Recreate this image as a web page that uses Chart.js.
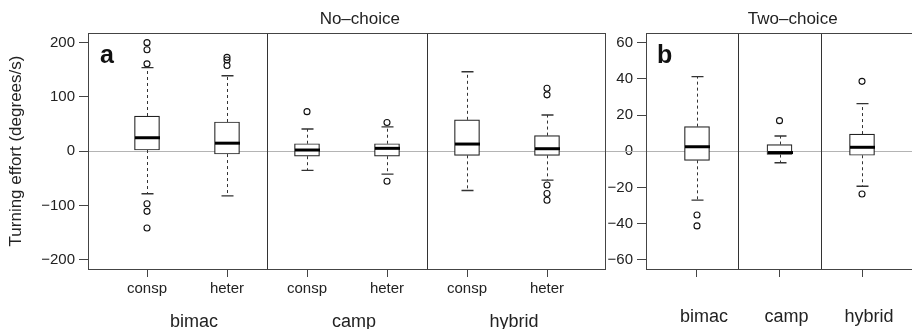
<!DOCTYPE html>
<html>
<head>
<meta charset="utf-8">
<script src="https://cdn.jsdelivr.net/npm/chart.js@4.4.1/dist/chart.umd.min.js"></script>
<style>
  html, body { margin: 0; padding: 0; background: #ffffff; overflow: hidden; }
  #wrap { position: relative; width: 912px; height: 329px; overflow: hidden; }
  canvas { position: absolute; top: 0; }
  #ca { left: 0; }
  #cb { left: 606px; }
</style>
</head>
<body>
<div id="wrap">
  <canvas id="ca" width="620" height="329"></canvas>
  <canvas id="cb" width="307" height="329"></canvas>
</div>
<script>
// ---------- Panel a: No-choice ----------
const noChoiceTitle = 'No\u2013choice';
const noChoiceCats = ['consp', 'heter', 'consp', 'heter', 'consp', 'heter'];
const noChoiceGroups = ['bimac', 'camp', 'hybrid'];
const ncLowWhisker  = [-78, -82, -35, -42, -72, -53];
const ncQ1          = [2.4, -5, -9, -9, -7.4, -7.4];
const ncMedian      = [25, 15, 2.4, 5.5, 13.4, 4.8];
const ncQ3          = [65, 54, 14, 14, 58, 29];
const ncHighWhisker = [154, 139, 41, 45, 146.6, 67];
const ncOutliers    = [[200, 187, 161, -96.5, -110.5, -141], [173, 168, 158], [73], [53, -55], [], [116, 104, -62, -77.5, -90]];
const ncYTicks = [-200, -100, 0, 100, 200];

// ---------- Panel b: Two-choice ----------
const twoChoiceTitle = 'Two\u2013choice';
const twoChoiceCats = ['bimac', 'camp', 'hybrid'];
const tcLowWhisker  = [-27, -6.3, -19.3];
const tcQ1          = [-5, -1.8, -2.2];
const tcMedian      = [2.5, -0.7, 2.2];
const tcQ3          = [13.6, 3.7, 9.5];
const tcHighWhisker = [41.2, 8.4, 26.3];
const tcOutliers    = [[-35.2, -41.2], [16.9], [38.6, -23.6]];
const tcYTicks = [-60, -40, -20, 0, 20, 40, 60];

const FONT = "'Liberation Sans', Arial, Helvetica, sans-serif";
const INK = '#222';

function boxData(q1, q3) { return q1.map((v, i) => ({ x: i + 1, y: [v, q3[i]] })); }
function outlierData(out) {
  const pts = [];
  out.forEach((arr, i) => arr.forEach(v => pts.push({ x: i + 1, y: v })));
  return pts;
}

function boxPlugin(opts) {
  return {
    id: 'boxdeco' + opts.key,
    beforeDatasetsDraw(chart) {
      const ctx = chart.ctx, ca = chart.chartArea, ys = chart.scales.y;
      const y0 = Math.round(ys.getPixelForValue(0)) + 0.5;
      ctx.save();
      ctx.strokeStyle = '#b4b4b4';
      ctx.lineWidth = 1;
      ctx.beginPath();
      ctx.moveTo(opts.zeroFrom === 'edge' ? 0 : ca.left, y0);
      ctx.lineTo(opts.zeroTo === 'edge' ? chart.width : ca.right, y0);
      ctx.stroke();
      ctx.restore();
    },
    afterDatasetsDraw(chart) {
      const ctx = chart.ctx, ca = chart.chartArea, xs = chart.scales.x, ys = chart.scales.y;
      ctx.save();
      // whiskers
      opts.low.forEach((lo, i) => {
        const x = Math.round(xs.getPixelForValue(i + 1)) + 0.5;
        const pLo = ys.getPixelForValue(lo), pHi = ys.getPixelForValue(opts.high[i]);
        const pQ1 = ys.getPixelForValue(opts.q1[i]), pQ3 = ys.getPixelForValue(opts.q3[i]);
        ctx.strokeStyle = '#333';
        ctx.lineWidth = 1;
        ctx.setLineDash([3, 3]);
        ctx.beginPath();
        ctx.moveTo(x, pQ3); ctx.lineTo(x, pHi);
        ctx.moveTo(x, pQ1); ctx.lineTo(x, pLo);
        ctx.stroke();
        ctx.setLineDash([]);
        ctx.lineWidth = 1.4;
        ctx.beginPath();
        ctx.moveTo(x - 6, pHi); ctx.lineTo(x + 6, pHi);
        ctx.moveTo(x - 6, pLo); ctx.lineTo(x + 6, pLo);
        ctx.stroke();
        // median
        const pM = ys.getPixelForValue(opts.med[i]);
        ctx.strokeStyle = '#000';
        ctx.lineWidth = 3;
        ctx.beginPath();
        ctx.moveTo(x - 12.5, pM); ctx.lineTo(x + 12.5, pM);
        ctx.stroke();
      });
      // dividers
      ctx.strokeStyle = '#333';
      ctx.lineWidth = 1;
      opts.dividers.forEach(d => {
        const x = Math.round(xs.getPixelForValue(d)) + 0.5;
        ctx.beginPath(); ctx.moveTo(x, ca.top); ctx.lineTo(x, ca.bottom); ctx.stroke();
      });
      // frame
      ctx.strokeStyle = '#444';
      ctx.strokeRect(Math.round(ca.left) + 0.5, Math.round(ca.top) + 0.5,
                     Math.round(ca.right - ca.left), Math.round(ca.bottom - ca.top));
      // panel letter
      ctx.fillStyle = '#111';
      ctx.font = 'bold 25px ' + FONT;
      ctx.textAlign = 'left';
      ctx.textBaseline = 'alphabetic';
      ctx.fillText(opts.letter, ca.left + opts.letterDx, 63);
      // title
      ctx.fillStyle = INK;
      ctx.font = '17px ' + FONT;
      ctx.textAlign = 'center';
      ctx.fillText(opts.title, xs.getPixelForValue(opts.titleAt), 24);
      // group labels
      if (opts.groups) {
        ctx.font = '18px ' + FONT;
        opts.groups.forEach((g, i) => {
          ctx.fillText(g, xs.getPixelForValue(1.5 + 2 * i) + 7, 327);
        });
      }
      ctx.restore();
    }
  };
}

function makeChart(canvasId, cfg) {
  return new Chart(document.getElementById(canvasId), {
    type: 'bar',
    data: {
      datasets: [
        {
          type: 'bar',
          data: boxData(cfg.q1, cfg.q3),
          backgroundColor: '#ffffff',
          borderColor: '#222',
          borderWidth: 1.2,
          borderSkipped: false,
          barThickness: 25,
          grouped: false
        },
        {
          type: 'scatter',
          data: outlierData(cfg.outliers),
          pointStyle: 'circle',
          pointRadius: 3,
          pointBorderWidth: 1.1,
          pointBorderColor: '#111',
          pointBackgroundColor: 'rgba(255,255,255,0)'
        }
      ]
    },
    options: {
      responsive: false,
      animation: false,
      devicePixelRatio: 1,
      layout: { autoPadding: false, padding: { left: 0, top: 33, right: cfg.padRight, bottom: 0 } },
      plugins: { legend: { display: false }, tooltip: { enabled: false } },
      scales: {
        x: {
          type: 'linear',
          offset: false,
          min: cfg.xMin, max: cfg.xMax,
          afterFit: s => { s.height = 60; s.paddingLeft = 0; s.paddingRight = 0; },
          afterBuildTicks: s => { s.ticks = cfg.cats.map((c, i) => ({ value: i + 1 })); },
          grid: { offset: false, drawOnChartArea: false, drawTicks: true, tickLength: 8, color: '#444', tickWidth: 1 },
          border: { display: false },
          ticks: {
            callback: v => cfg.cats[Math.round(v) - 1] || '',
            color: INK,
            font: { family: FONT, size: cfg.xFont },
            padding: cfg.xPad,
            labelOffset: cfg.xLabelOffset,
            maxRotation: 0, autoSkip: false
          }
        },
        y: {
          min: cfg.yMin, max: cfg.yMax,
          afterFit: s => { s.width = cfg.yWidth; s.paddingTop = 0; s.paddingBottom = 0; },
          afterBuildTicks: s => { s.ticks = cfg.yTicks.map(v => ({ value: v })); },
          grid: { offset: false, drawOnChartArea: false, drawTicks: true, tickLength: 9, color: '#444', tickWidth: 1 },
          border: { display: false },
          ticks: {
            color: INK,
            font: { family: FONT, size: 15 },
            padding: 4,
            callback: v => (v < 0 ? '\u2212' + Math.abs(v) : String(v))
          },
          title: cfg.yTitle ? {
            display: true, text: cfg.yTitle, color: INK,
            font: { family: FONT, size: 17 },
            padding: { top: 6, bottom: 0 }
          } : { display: false }
        }
      }
    },
    plugins: [boxPlugin({
      key: canvasId, low: cfg.low, high: cfg.high, q1: cfg.q1, q3: cfg.q3, med: cfg.med,
      dividers: cfg.dividers, letter: cfg.letter, letterDx: cfg.letterDx,
      title: cfg.title, titleAt: cfg.titleAt, groups: cfg.groups,
      zeroFrom: cfg.zeroFrom, zeroTo: cfg.zeroTo
    })]
  });
}

makeChart('ca', {
  cats: noChoiceCats, groups: noChoiceGroups,
  low: ncLowWhisker, q1: ncQ1, med: ncMedian, q3: ncQ3, high: ncHighWhisker, outliers: ncOutliers,
  yTicks: ncYTicks, yMin: -216.6, yMax: 217.8, xMin: 0.2625, xMax: 6.725,
  padRight: 15, yWidth: 88, xFont: 15, xPad: 3, xLabelOffset: 0,
  dividers: [2.5, 4.5], letter: 'a', letterDx: 12,
  title: noChoiceTitle, titleAt: 3.66, yTitle: 'Turning effort (degrees/s)',
  zeroFrom: 'area', zeroTo: 'edge'
});

makeChart('cb', {
  cats: twoChoiceCats, groups: null,
  low: tcLowWhisker, q1: tcQ1, med: tcMedian, q3: tcQ3, high: tcHighWhisker, outliers: tcOutliers,
  yTicks: tcYTicks, yMin: -65.0, yMax: 65.3, xMin: 0.382, xMax: 3.618,
  padRight: 0, yWidth: 40, xFont: 18, xPad: 29, xLabelOffset: 7,
  dividers: [1.5, 2.5], letter: 'b', letterDx: 11,
  title: twoChoiceTitle, titleAt: 2.16, yTitle: null,
  zeroFrom: 'edge', zeroTo: 'area'
});
</script>
</body>
</html>
